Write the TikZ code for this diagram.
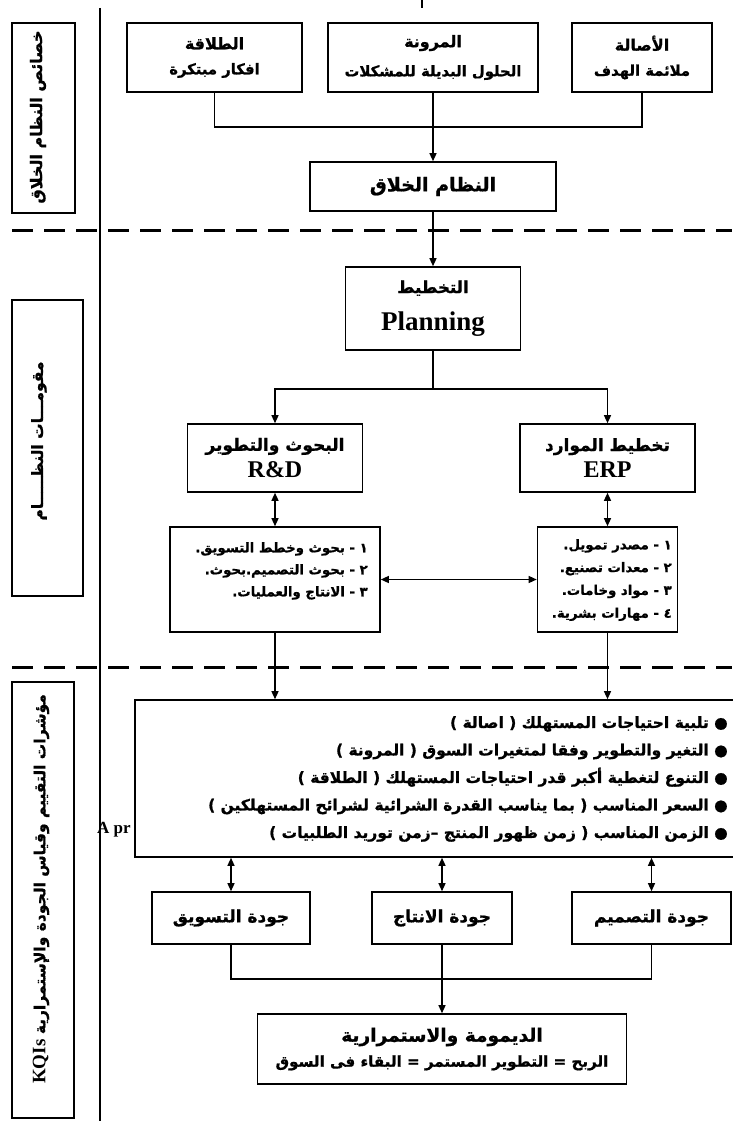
\documentclass[tikz,border=0pt]{standalone}
\usepackage{fontspec}
\setmainfont{Liberation Serif}
\newfontfamily\arfont[Script=Arabic, BoldFeatures={FakeBold=1}]{DejaVu Sans}
\TeXXeTstate=1
\usetikzlibrary{arrows.meta}
\newcommand\artx[1]{{\arfont\bfseries\beginR #1\endR}}
\newcommand\fs[2]{\fontsize{#1}{#2}\selectfont}
\begin{document}
\begin{tikzpicture}[x=1pt,y=-1pt,
  box/.style={draw, line width=1.6pt, inner sep=0pt, align=center},
  conn/.style={line width=1.3pt},
  arr/.style={conn, -{Triangle[length=8pt,width=7pt]}},
  darr/.style={conn, {Triangle[length=8pt,width=7pt]}-{Triangle[length=8pt,width=7pt]}},
  sep/.style={line width=3pt, dash pattern=on 21pt off 11pt},
  txt/.style={inner sep=0pt, align=right},
  lab/.style={inner sep=0pt, rotate=90}
  ]
\useasboundingbox (0,0) rectangle (732,1121);
% frame lines
\coordinate (vt) at (100,8); \coordinate (vb) at (100,1121);
\draw[line width=1.4pt] (vt) -- (vb);
\coordinate (tk1) at (422,0); \coordinate (tk2) at (422,8);
\draw[line width=1.2pt] (tk1) -- (tk2);
\coordinate (d1a) at (12,230); \coordinate (d1b) at (732,230);
\coordinate (d2a) at (12,667); \coordinate (d2b) at (732,667);
\draw[sep] (d1a) -- (d1b);
\draw[sep] (d2a) -- (d2b);
% left labels
\node[box, rotate=90, minimum width=190pt, minimum height=63pt] (lab1) at (43.5,118) {};
\node[box, rotate=90, minimum width=296pt, minimum height=71pt] (lab2) at (47.5,448) {};
\node[box, rotate=90, minimum width=436pt, minimum height=62pt] (lab3) at (43,900) {};
\node[lab, font=\fs{16}{18}] (lab1t) at (38,117) {\artx{خصائص النظام الخلاق}};
\node[lab, font=\fs{15.5}{18}] (lab2t) at (39,441) {\artx{مقومـــات النظـــــام}};
\node[lab, font=\fs{15.5}{18}] (lab3t) at (41,889) {\artx{مؤشرات التقييم وقياس الجودة والإستمرارية {\rmfamily\bfseries\fs{19}{20}\beginL KQIs\endL}}};
% top section
\node[box, minimum width=175pt, minimum height=69pt] (tl) at (214.5,57.5) {{\fs{16}{18}\artx{الطلاقة}}\\[13pt]{\fs{14.8}{16}\artx{افكار مبتكرة}}};
\node[box, minimum width=210pt, minimum height=69pt] (tm) at (433,57.5) {{\fs{16}{18}\artx{المرونة}}\\[13pt]{\fs{14.8}{16}\artx{الحلول البديلة للمشكلات}}};
\node[box, minimum width=140pt, minimum height=69pt] (tr) at (642,57.5) {{\fs{16}{18}\artx{الأصالة}}\\[13pt]{\fs{14.8}{16}\artx{ملائمة الهدف}}};
\node[box, minimum width=246pt, minimum height=49pt, font=\fs{19}{21}] (creative) at (433,186.5) {\artx{النظام الخلاق}};
% planning
\node[box, minimum width=175pt, minimum height=83pt] (plan) at (433,308.5) {{\fs{16.6}{18}\artx{التخطيط}}\\[15pt]{\bfseries\fs{27}{28}Planning}};
\node[box, minimum width=175pt, minimum height=68pt] (rd) at (275,458) {{\fs{17}{19}\artx{البحوث والتطوير}}\\[6pt]{\bfseries\fs{24}{25}R\&D}};
\node[box, minimum width=175pt, minimum height=68pt] (erp) at (607.5,458) {{\fs{17}{19}\artx{تخطيط الموارد}}\\[6pt]{\bfseries\fs{24}{25}ERP}};
\node[box, minimum width=210pt, minimum height=105pt] (listL) at (275,579.5) {};
\node[box, minimum width=140pt, minimum height=105pt] (listR) at (607.5,579.5) {};
\node[txt, anchor=north east, font=\fs{13.3}{22}] (listLt) at (368,542) {\artx{١ - بحوث وخطط التسويق.}\\\artx{٢ - بحوث التصميم.بحوث.}\\\artx{٣ - الانتاج والعمليات.}};
\node[txt, anchor=north east, font=\fs{13.3}{22.8}] (listRt) at (672,539) {\artx{١ - مصدر تمويل.}\\\artx{٢ - معدات تصنيع.}\\\artx{٣ - مواد وخامات.}\\\artx{٤ - مهارات بشرية.}};
% indicators
\node[inner sep=0pt, anchor=base west, font=\bfseries\fs{17}{18}] (apr) at (97,833) {A pr};
\node[box, fill=white, minimum width=612pt, minimum height=157pt] (big) at (441,778.5) {};
\node[txt, anchor=north east, font=\fs{15.5}{27.5}] (bul) at (728,716) {\artx{● تلبية احتياجات المستهلك ( اصالة )}\\\artx{● التغير والتطوير وفقا لمتغيرات السوق ( المرونة )}\\\artx{● التنوع لتغطية أكبر قدر احتياجات المستهلك ( الطلاقة )}\\\artx{● السعر المناسب ( بما يناسب القدرة الشرائية لشرائح المستهلكين )}\\\artx{● الزمن المناسب ( زمن ظهور المنتج –زمن توريد الطلبيات )}};
\node[box, minimum width=158pt, minimum height=52pt, font=\fs{17}{19}] (qL) at (231,918) {\artx{جودة التسويق}};
\node[box, minimum width=140pt, minimum height=52pt, font=\fs{17}{19}] (qM) at (442,918) {\artx{جودة الانتاج}};
\node[box, minimum width=159pt, minimum height=52pt, font=\fs{17}{19}] (qR) at (651.5,918) {\artx{جودة التصميم}};
\node[box, minimum width=369pt, minimum height=70pt] (fin) at (442,1049) {{\fs{18.6}{20}\artx{الديمومة والاستمرارية}}\\[8pt]{\fs{15.1}{17}\artx{الربح = التطوير المستمر = البقاء فى السوق}}};
% connectors
\coordinate (j1) at (433,127);
\draw[conn] (tl.south) -- (tl.south |- j1) -- (tr.south |- j1) -- (tr.south);
\draw[arr] (tm.south) -- (creative.north);
\draw[arr] (creative.south) -- (plan.north);
\coordinate (j2) at (433,389);
\draw[arr] (plan.south) -- (plan.south |- j2) -| (rd.north);
\draw[arr] (plan.south |- j2) -| (erp.north);
\draw[darr] (rd.south) -- (listL.north);
\draw[darr] (erp.south) -- (listR.north);
\draw[darr] (listL.east) -- (listR.west);
\draw[arr] (listL.south) -- (listL.south |- big.north);
\draw[arr] (listR.south) -- (listR.south |- big.north);
\draw[darr] (qL.north |- big.south) -- (qL.north);
\draw[darr] (qM.north |- big.south) -- (qM.north);
\draw[darr] (qR.north |- big.south) -- (qR.north);
\coordinate (j3) at (442,979);
\draw[conn] (qL.south) -- (qL.south |- j3) -- (qR.south |- j3) -- (qR.south);
\draw[arr] (qM.south) -- (fin.north);
\end{tikzpicture}
\end{document}
